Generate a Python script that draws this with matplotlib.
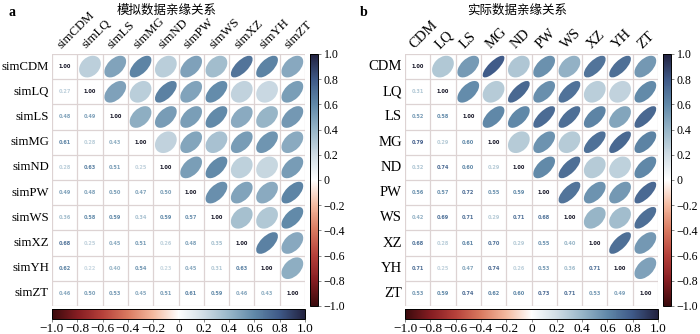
import numpy as np
import matplotlib
matplotlib.use('Agg')
import matplotlib.pyplot as plt
from matplotlib.colors import LinearSegmentedColormap, Normalize
from matplotlib.cm import ScalarMappable
from matplotlib.patches import Ellipse
from matplotlib.ticker import FuncFormatter

plt.rcParams['font.family'] = ['Liberation Serif', 'Noto Sans CJK SC', 'DejaVu Sans']

sim_labels = ['simCDM', 'simLQ', 'simLS', 'simMG', 'simND',
              'simPW', 'simWS', 'simXZ', 'simYH', 'simZT']
real_labels = ['CDM', 'LQ', 'LS', 'MG', 'ND', 'PW', 'WS', 'XZ', 'YH', 'ZT']

# lower triangle, row by row (row i holds correlations with columns 0..i-1)
sim_lower = [
    [0.27],
    [0.48, 0.49],
    [0.61, 0.28, 0.43],
    [0.28, 0.63, 0.51, 0.25],
    [0.49, 0.48, 0.50, 0.47, 0.50],
    [0.36, 0.58, 0.59, 0.34, 0.59, 0.57],
    [0.68, 0.25, 0.45, 0.51, 0.26, 0.48, 0.35],
    [0.62, 0.22, 0.40, 0.54, 0.23, 0.45, 0.31, 0.63],
    [0.46, 0.50, 0.53, 0.45, 0.51, 0.61, 0.59, 0.46, 0.43],
]
real_lower = [
    [0.31],
    [0.52, 0.58],
    [0.79, 0.29, 0.60],
    [0.32, 0.74, 0.60, 0.29],
    [0.56, 0.57, 0.72, 0.55, 0.59],
    [0.42, 0.69, 0.71, 0.29, 0.71, 0.68],
    [0.68, 0.28, 0.61, 0.70, 0.29, 0.55, 0.40],
    [0.71, 0.25, 0.47, 0.74, 0.26, 0.53, 0.36, 0.71],
    [0.53, 0.59, 0.74, 0.62, 0.60, 0.73, 0.71, 0.53, 0.49],
]

cmap = LinearSegmentedColormap.from_list('corr', [
    '#3a0a0c', '#861d22', '#b5403a', '#d97a60', '#f4baa0', '#ffffff',
    '#d0dde5', '#98b6c8', '#6088a8', '#3f5a88', '#222240'])
norm = Normalize(-1, 1)


def full_matrix(lower):
    n = len(lower) + 1
    m = np.eye(n)
    for i, row in enumerate(lower, start=1):
        for j, v in enumerate(row):
            m[i, j] = m[j, i] = v
    return m


def fmt(v, pos=None):
    if abs(v) < 1e-9:
        return '0'
    return f'{v:.1f}'.replace('-', '\u2212')


def draw_panel(fig, x0, mat, labels, title, title_x, tag, tag_x, lab_size):
    W, H = 700, 334
    n = len(labels)
    ax = fig.add_axes([x0 / W, 28 / H, 253 / W, 252 / H])
    ax.set_xlim(0, n)
    ax.set_ylim(n, 0)
    ax.axis('off')
    for k in range(n + 1):
        ax.plot([k, k], [0, n], color='#ddd3d3', lw=0.9, zorder=1)
        ax.plot([0, n], [k, k], color='#ddd3d3', lw=0.9, zorder=1)
    s = 0.43
    for i in range(n):
        for j in range(n):
            r = mat[i, j]
            if i < j:
                ax.add_patch(Ellipse((j + 0.5, i + 0.5), 2 * s * np.sqrt(1 + r),
                                     2 * s * np.sqrt(1 - r), angle=-45,
                                     facecolor=cmap(norm(r)), edgecolor='none', zorder=2))
            else:
                col = '#111122' if i == j else cmap(norm(r))
                ax.text(j + 0.5, i + 0.5, f'{r:.2f}', ha='center', va='center',
                        fontsize=3.6, fontweight='bold', color=col,
                        family='DejaVu Sans', zorder=3)
    for i, lab in enumerate(labels):
        ax.text(-0.12, i + 0.5, lab, ha='right', va='center', fontsize=lab_size, clip_on=False)
        ax.text(i + 0.45, -0.12, lab, ha='left', va='bottom', rotation=45,
                rotation_mode='anchor', fontsize=lab_size, clip_on=False)

    sm = ScalarMappable(norm=norm, cmap=cmap)
    ticks = np.linspace(-1, 1, 11)
    cv = fig.add_axes([(x0 + 258) / W, 28 / H, 8 / W, 252 / H])
    cb = fig.colorbar(sm, cax=cv, ticks=ticks, format=FuncFormatter(fmt))
    cb.outline.set_linewidth(0.7)
    cv.tick_params(labelsize=8.6, length=2.5, width=0.6, color='#777777', pad=1.5)
    ch = fig.add_axes([x0 / W, 15 / H, 253 / W, 10 / H])
    cb2 = fig.colorbar(sm, cax=ch, orientation='horizontal', ticks=ticks,
                       format=FuncFormatter(fmt))
    cb2.outline.set_linewidth(0.7)
    ch.tick_params(labelsize=9.5, length=2, width=0.6, color='#777777', pad=1)

    fig.text(title_x / W, 1 - 10 / H, title, ha='center', va='center', fontsize=9,
             family=['Noto Sans CJK SC', 'DejaVu Sans'])
    fig.text(tag_x / W, 1 - 13 / H, tag, ha='center', va='center', fontsize=10,
             fontweight='bold')


fig = plt.figure(figsize=(7, 3.34), dpi=100)
draw_panel(fig, 52, full_matrix(sim_lower), sim_labels, '模拟数据亲缘关系', 167, 'a', 12, 9.2)
draw_panel(fig, 405, full_matrix(real_lower), real_labels, '实际数据亲缘关系', 517, 'b', 364, 10.5)
fig.savefig('out.png', dpi=100)
